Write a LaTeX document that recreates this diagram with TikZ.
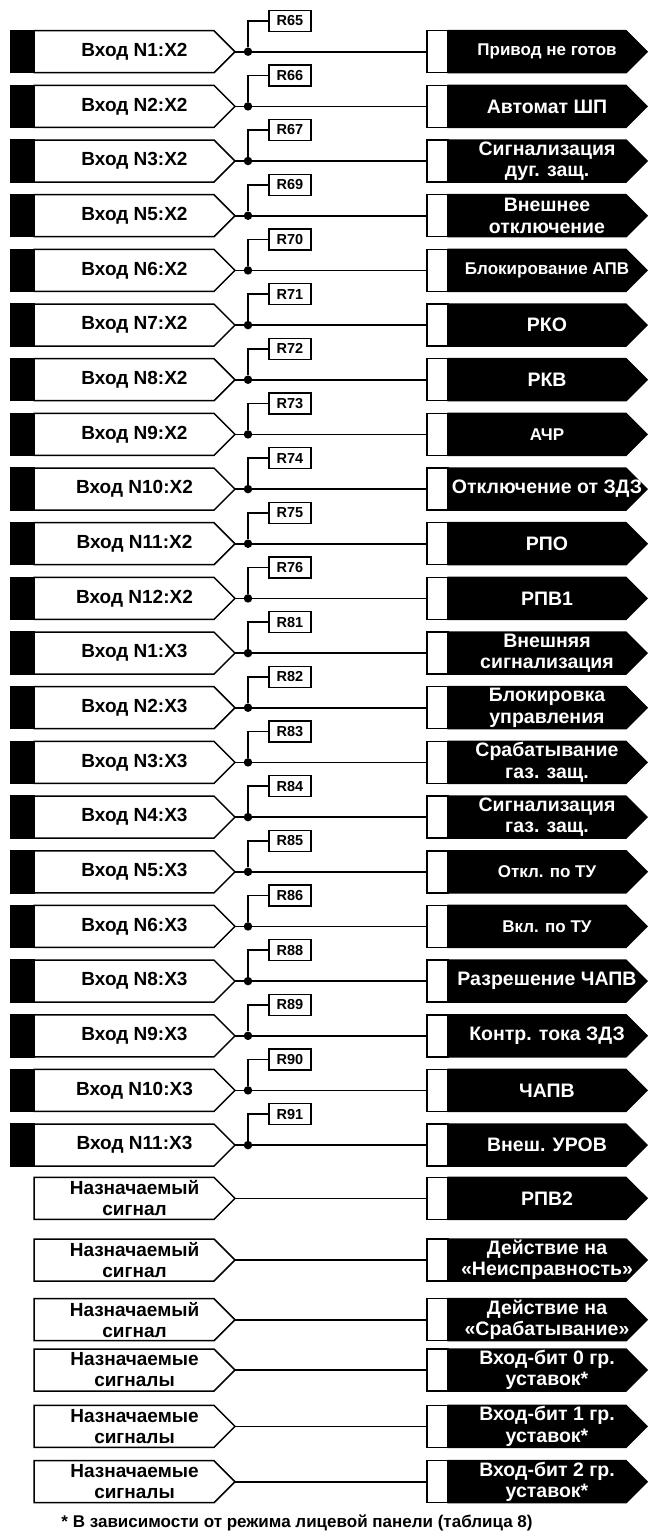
\documentclass[tikz,border=0pt]{standalone}
\usepackage{fontspec}
\setmainfont{Liberation Sans}
\usetikzlibrary{shapes.symbols,positioning}
\newcommand{\sgfont}{\fontsize{19}{21}\selectfont\bfseries}
\newcommand{\sgbig}{\fontsize{19.5}{21.5}\selectfont\bfseries}
\newcommand{\sgless}{\fontsize{17}{19}\selectfont}
\newcommand{\sgtag}{\fontsize{14.5}{16}\selectfont\bfseries}
\newcommand{\sgfoot}{\fontsize{17}{19}\selectfont\bfseries}
\tikzset{
  sgbar/.style={
    rectangle, draw=black, fill=black, line width=1.5pt,
    minimum width=23pt, minimum height=42pt, inner sep=0pt, outer sep=0pt
  },
  sgin/.style={
    signal, signal to=east, draw=black, fill=white, line width=1.5pt,
    minimum width=201pt, minimum height=42pt, inner sep=0pt, outer sep=0pt
  },
  sgblank/.style={
    rectangle, draw=black, fill=white, line width=1.5pt,
    minimum width=21pt, minimum height=42pt, inner sep=0pt, outer sep=0pt
  },
  sgout/.style={
    signal, signal to=east, draw=black, fill=black, line width=1.5pt,
    minimum width=199pt, minimum height=42pt, inner sep=0pt, outer sep=0pt
  },
  sgintext/.style={align=center, inner sep=0pt, font=\sgfont},
  sgouttext/.style={align=center, inner sep=0pt, text=white, font=\sgbig},
  sgdot/.style={circle, fill=black, minimum size=8.5pt, inner sep=0pt},
  sgref/.style={
    rectangle, draw=black, fill=white, line width=1.3pt,
    minimum width=42pt, minimum height=21pt, inner sep=0pt, font=\sgtag
  },
  sgwire/.style={line width=1.6pt},
  sgnote/.style={font=\sgfoot}
}
% one input with its R tag: id, y, input, tag, output
\newcommand{\sgrow}[5]{%
  \node[sgin,anchor=west] (in#1) at (34,#2) {};
  \node[sgbar,anchor=east] (bar#1) at (in#1.west) {};
  \node[sgintext] (tin#1) at (134.5,#2) {#3};
  \node[sgdot] (dot#1) at (248,#2) {};
  \node[sgblank,anchor=west] (wh#1) at (427,#2) {};
  \node[sgout,anchor=west] (out#1) at (wh#1.east) {};
  \node[sgouttext] (tout#1) at (547,#2) {#5};
  \node[sgref] (r#1) at (290,#2-31) {#4};
  \draw[sgwire] (in#1.east) -- (dot#1) -- (wh#1.west);
  \draw[sgwire] (dot#1) |- (r#1.west);
}
% assignable signal: id, y, input, output
\newcommand{\sgfree}[4]{%
  \node[sgin,anchor=west] (in#1) at (34,#2) {};
  \node[sgintext] (tin#1) at (134.5,#2) {#3};
  \node[sgblank,anchor=west] (wh#1) at (427,#2) {};
  \node[sgout,anchor=west] (out#1) at (wh#1.east) {};
  \node[sgouttext] (tout#1) at (547,#2) {#4};
  \draw[sgwire] (in#1.east) -- (wh#1.west);
}

\begin{document}
\begin{tikzpicture}[x=1pt,y=-1pt]
  \useasboundingbox (0,0) rectangle (648,1535);
  % X2 inputs
  \sgrow{a}{51.7}{Вход N1:X2}{R65}{\sgless Привод не готов}
  \sgrow{b}{106.4}{Вход N2:X2}{R66}{Автомат ШП}
  \sgrow{c}{161.0}{Вход N3:X2}{R67}{Сигнализация\\дуг. защ.}
  \sgrow{d}{215.7}{Вход N5:X2}{R69}{Внешнее\\отключение}
  \sgrow{e}{270.4}{Вход N6:X2}{R70}{\sgless Блокирование АПВ}
  \sgrow{f}{325.1}{Вход N7:X2}{R71}{РКО}
  \sgrow{g}{379.7}{Вход N8:X2}{R72}{РКВ}
  \sgrow{h}{434.4}{Вход N9:X2}{R73}{\sgless АЧР}
  \sgrow{i}{489.1}{Вход N10:X2}{R74}{Отключение от ЗДЗ}
  \sgrow{j}{543.7}{Вход N11:X2}{R75}{РПО}
  \sgrow{k}{598.4}{Вход N12:X2}{R76}{РПВ1}
  % X3 inputs
  \sgrow{l}{653.1}{Вход N1:X3}{R81}{Внешняя\\сигнализация}
  \sgrow{m}{707.7}{Вход N2:X3}{R82}{Блокировка\\управления}
  \sgrow{n}{762.4}{Вход N3:X3}{R83}{Срабатывание\\газ. защ.}
  \sgrow{o}{817.1}{Вход N4:X3}{R84}{Сигнализация\\газ. защ.}
  \sgrow{p}{871.8}{Вход N5:X3}{R85}{\sgless Откл. по ТУ}
  \sgrow{q}{926.4}{Вход N6:X3}{R86}{\sgless Вкл. по ТУ}
  \sgrow{r}{981.1}{Вход N8:X3}{R88}{Разрешение ЧАПВ}
  \sgrow{s}{1035.8}{Вход N9:X3}{R89}{Контр. тока ЗДЗ}
  \sgrow{t}{1090.4}{Вход N10:X3}{R90}{ЧАПВ}
  \sgrow{u}{1145.1}{Вход N11:X3}{R91}{Внеш. УРОВ}
  % assignable signals
  \sgfree{v}{1198.3}{Назначаемый\\сигнал}{РПВ2}
  \sgfree{w}{1260.0}{Назначаемый\\сигнал}{Действие на\\«Неисправность»}
  \sgfree{x}{1319.7}{Назначаемый\\сигнал}{Действие на\\«Срабатывание»}
  \sgfree{y}{1370.0}{Назначаемые\\сигналы}{Вход-бит 0 гр.\\уставок*}
  \sgfree{z}{1426.3}{Назначаемые\\сигналы}{Вход-бит 1 гр.\\уставок*}
  \sgfree{zz}{1481.7}{Назначаемые\\сигналы}{Вход-бит 2 гр.\\уставок*}
  \node[sgnote] (note) at (297,1523) {* В зависимости от режима лицевой панели (таблица 8)};
\end{tikzpicture}
\end{document}
